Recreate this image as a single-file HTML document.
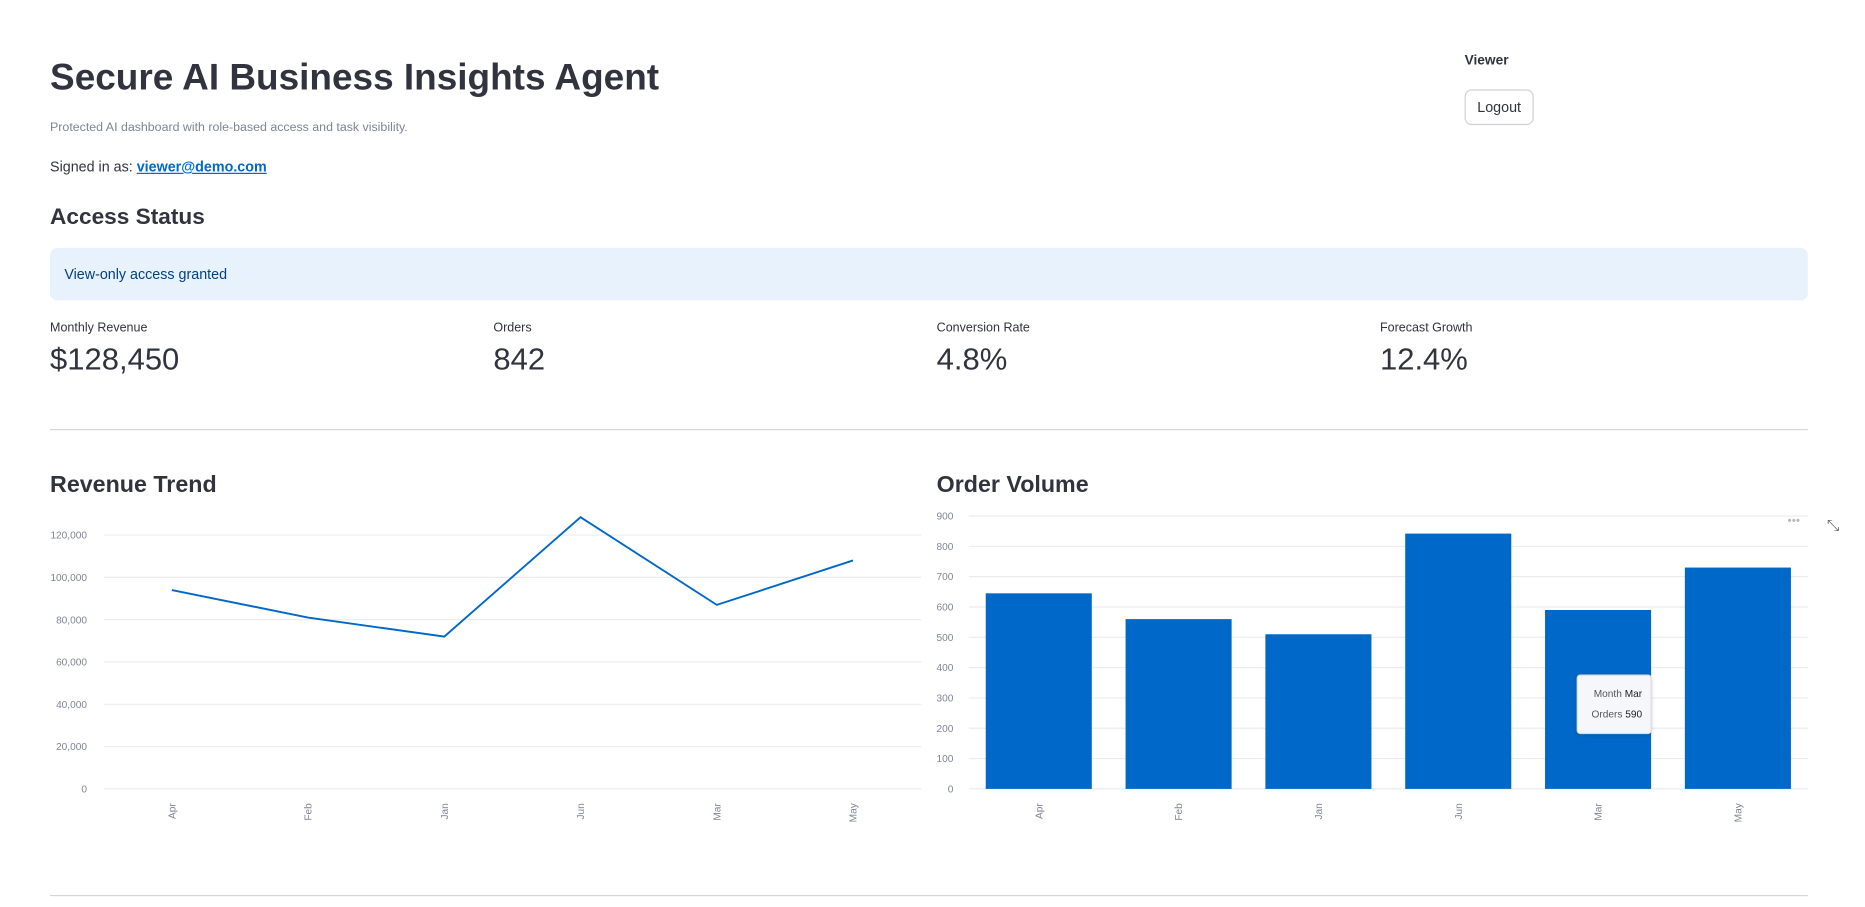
<!DOCTYPE html>
<html><head><meta charset="utf-8">
<style>
html,body{margin:0;padding:0;background:#fff;width:1865px;height:907px;overflow:hidden}
#wrap{position:absolute;left:0;top:0;width:1565px;height:761px;transform:scale(1.1917);transform-origin:0 0;font-family:"Liberation Sans",sans-serif;color:#31333f}
.a{position:absolute;white-space:nowrap}
.lbl{font-size:10.5px;color:#31333f}
.val{font-size:26px;color:#31333f}
.hr{position:absolute;left:42px;width:1475px;height:1px;background:#d6d6d9}
</style></head><body>
<div id="wrap">
<div class="a" style="left:42px;top:47px;font-size:31px;font-weight:bold">Secure AI Business Insights Agent</div>
<div class="a" style="left:42px;top:102px;font-size:10.4px;color:#808495">Protected AI dashboard with role-based access and task visibility.</div>
<div class="a" style="left:42px;top:133px;font-size:12px">Signed in as: <a style="color:#0068c9;font-weight:bold;text-decoration:underline">viewer@demo.com</a></div>
<div class="a" style="left:1229px;top:45px;font-size:11.5px;font-weight:bold">Viewer</div>
<div class="a" style="left:1229px;top:75px;width:56px;height:28px;border:1px solid #d0d0d6;border-radius:6px;font-size:12px;line-height:28px;text-align:center">Logout</div>
<div class="a" style="left:42px;top:172px;font-size:19px;font-weight:bold">Access Status</div>
<div class="a" style="left:42px;top:208px;width:1475px;height:44px;background:#e8f2fc;border-radius:6px"><span style="position:absolute;left:12px;top:15px;font-size:12px;color:#004280">View-only access granted</span></div>
<div class="a lbl" style="left:42px;top:269px">Monthly Revenue</div>
<div class="a val" style="left:42px;top:286px">$128,450</div>
<div class="a lbl" style="left:414px;top:269px">Orders</div>
<div class="a val" style="left:414px;top:286px">842</div>
<div class="a lbl" style="left:786px;top:269px">Conversion Rate</div>
<div class="a val" style="left:786px;top:286px">4.8%</div>
<div class="a lbl" style="left:1158px;top:269px">Forecast Growth</div>
<div class="a val" style="left:1158px;top:286px">12.4%</div>
<div class="hr" style="top:360px"></div>
<div class="a" style="left:42px;top:396px;font-size:19.5px;font-weight:bold">Revenue Trend</div>
<div class="a" style="left:786px;top:396px;font-size:19.5px;font-weight:bold">Order Volume</div>
<div class="a" style="left:1500px;top:432px;font-size:10px;color:#bbb">•••</div>
<div class="a" style="left:1533px;top:433px;font-size:13px;color:#666">⤡</div>
<svg id="charts" width="1565" height="761" style="position:absolute;left:0;top:0"></svg>
<div class="a" style="left:1323px;top:566px;width:61px;height:48px;background:#f5f7fa;border:1px solid #ddd;border-radius:3px;box-shadow:0 1px 3px rgba(0,0,0,.15);font-size:8.5px;color:#555">
<div style="position:absolute;right:7px;top:10px">Month <b style="color:#222;font-weight:normal">Mar</b></div>
<div style="position:absolute;right:7px;top:27px">Orders <b style="color:#222;font-weight:normal">590</b></div></div>
<div class="hr" style="top:751px"></div>
</div>
<script>
const months = ["Apr","Feb","Jan","Jun","Mar","May"];
const revenue = [94000, 81000, 72000, 128450, 87000, 108000];
const orders = [645, 560, 510, 842, 590, 730];
const revTicks = [0,20000,40000,60000,80000,100000,120000];
const ordTicks = [0,100,200,300,400,500,600,700,800,900];
const NS="http://www.w3.org/2000/svg";
const svg=document.getElementById('charts');
function mk(t,at){const e=document.createElementNS(NS,t);for(const k in at)e.setAttribute(k,at[k]);svg.appendChild(e);return e;}
const L={x0:87,x1:773,y0:662,yMax:120000,yTop:449};
const ry=v=>L.y0-(v/L.yMax)*(L.y0-L.yTop);
const rstep=(L.x1-L.x0)/months.length;
const rx=i=>L.x0+rstep*(i+0.5);
revTicks.forEach(t=>{
 const g=mk('line',{x1:L.x0,x2:L.x1,y1:ry(t),y2:ry(t),stroke:'#ececf0','stroke-width':1});
 
 
 const tx=mk('text',{x:73,y:ry(t)+3,'text-anchor':'end','font-size':8.5,fill:'#808495','font-family':'Liberation Sans, sans-serif'});
 tx.textContent=t.toLocaleString('en-US');
 
 
});
const pl=mk('polyline',{points:revenue.map((v,i)=>rx(i)+','+ry(v)).join(' '),fill:'none',stroke:'#0068c9','stroke-width':1.6});


months.forEach((m,i)=>{
 const tx=mk('text',{x:0,y:0,transform:`translate(${rx(i)+3},${674}) rotate(-90)`,'text-anchor':'end','font-size':8.5,fill:'#808495','font-family':'Liberation Sans, sans-serif'});
 tx.textContent=m;
 
 
});
const R={x0:813,x1:1517,y0:662,yMax:900,yTop:433};
const oy=v=>R.y0-(v/R.yMax)*(R.y0-R.yTop);
const ostep=(R.x1-R.x0)/months.length;
const bw=89;
const ox=i=>R.x0+ostep*(i+0.5);
ordTicks.forEach(t=>{
 const g=mk('line',{x1:R.x0,x2:R.x1,y1:oy(t),y2:oy(t),stroke:'#ececf0','stroke-width':1});
 
 
 const tx=mk('text',{x:800,y:oy(t)+3,'text-anchor':'end','font-size':8.5,fill:'#808495','font-family':'Liberation Sans, sans-serif'});
 tx.textContent=t;
 
 
});
orders.forEach((v,i)=>{
 const b=mk('rect',{x:ox(i)-bw/2,y:oy(v),width:bw,height:R.y0-oy(v),fill:'#0068c9'});
 
 
});
months.forEach((m,i)=>{
 const tx=mk('text',{x:0,y:0,transform:`translate(${ox(i)+3},${674}) rotate(-90)`,'text-anchor':'end','font-size':8.5,fill:'#808495','font-family':'Liberation Sans, sans-serif'});
 tx.textContent=m;
 
 
});
</script>
</body></html>
